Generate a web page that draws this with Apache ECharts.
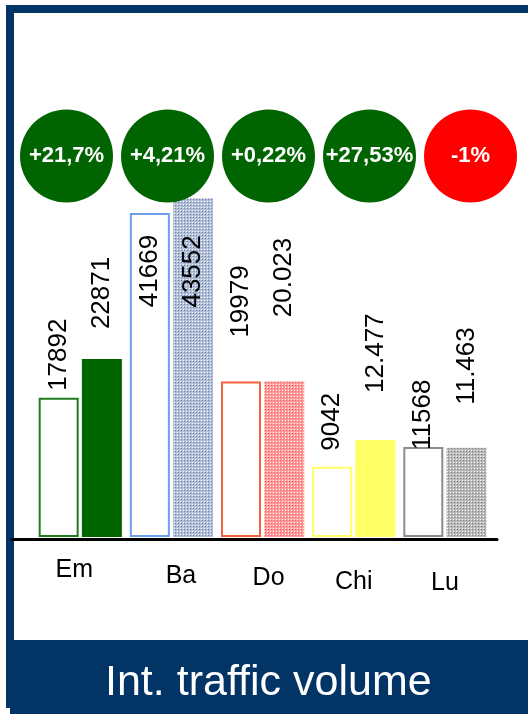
<!DOCTYPE html>
<html><head><meta charset="utf-8">
<script src="https://cdn.jsdelivr.net/npm/echarts@6/dist/echarts.min.js"></script>
<style>html,body{margin:0;padding:0;background:#fff}#c{width:528px;height:715px}</style>
</head><body><div id="c"></div>
<script>
// ---- data ----
const categories = ['Em', 'Ba', 'Do', 'Chi', 'Lu'];
const previousValues = [17892, 41669, 19979, 9042, 11568];
const currentValues = [22871, 43552, 20023, 12477, 11463];
const previousLabels = ['17892', '41669', '19979', '9042', '11568'];
const currentLabels = ['22871', '43552', '20.023', '12.477', '11.463'];
const changeValues = [21.7, 4.21, 0.22, 27.53, -1];
const changeLabels = ['+21,7%', '+4,21%', '+0,22%', '+27,53%', '-1%'];
const chartTitle = 'Int. traffic volume';

// ---- styles ----
function mesh(base, light, dark) {
  const c = document.createElement('canvas');
  c.width = 3; c.height = 3;
  const g = c.getContext('2d');
  g.fillStyle = base; g.fillRect(0, 0, 3, 3);
  g.fillStyle = light; g.fillRect(0, 0, 1, 1);
  g.fillStyle = dark; g.fillRect(1, 1, 1, 1);
  return { image: c, repeat: 'repeat' };
}
const prevBorders = ['#1e7b1e', '#6d9eeb', '#f4603c', '#ffff66', '#8c8c8c'];
const currFills = [
  '#006400',
  mesh('#b0bed8', '#ffffff', '#6f84ad'),
  mesh('#ff9a9a', '#ffffff', '#ff6060'),
  '#ffff66',
  mesh('#b8b8b8', '#ffffff', '#858585')
];
const prevLabelPos = ['top', 'insideTop', 'top', 'top', 'top'];
const prevLabelDist = [7, 22, 44, 16, -3];
const currLabelPos = ['top', 'insideTop', 'top', 'top', 'top'];
const currLabelDist = [30, 37, 64, 47, 43];
const catNudge = [[0, 12, 0, 0], [6, 0, 0, 19], [8, 0, 0, 12], [12, 0, 0, 0], [13, 0, 0, 0]];
const FONT = 'Liberation Sans, Arial, sans-serif';

function valLabel(text, pos, dist) {
  return {
    show: true, position: pos, distance: dist, rotate: 90,
    align: pos === 'top' ? 'left' : 'right', verticalAlign: 'middle',
    fontSize: 26, color: '#000', fontFamily: FONT,
    formatter: () => text
  };
}

const rich = {};
catNudge.forEach((p, i) => { rich['c' + i] = { padding: p, fontSize: 25, color: '#000', fontFamily: FONT }; });

const chart = echarts.init(document.getElementById('c'), null, { renderer: 'canvas' });
chart.setOption({
  animation: false,
  backgroundColor: '#ffffff',
  title: {
    text: chartTitle, left: 105, top: 662, padding: 0,
    textStyle: { color: '#ffffff', fontSize: 43, fontWeight: 'normal', fontFamily: FONT }
  },
  graphic: [
    { type: 'rect', z: 0, shape: { x: 6, y: 5, width: 522, height: 8 }, style: { fill: '#033466' } },
    { type: 'rect', z: 0, shape: { x: 6, y: 5, width: 8, height: 703 }, style: { fill: '#033466' } },
    { type: 'rect', z: 0, shape: { x: 10, y: 640, width: 518, height: 74 }, style: { fill: '#033466' } }
  ],
  grid: [
    { left: 34.7, right: 37.5, top: 70.33, bottom: 178 },
    { left: 12, right: 31, top: 500, bottom: 175.5 },
    { left: 16, right: 7, top: 110, height: 92 }
  ],
  xAxis: [
    {
      type: 'category', gridIndex: 0, data: categories,
      axisLine: { show: false }, axisTick: { show: false },
      axisLabel: { margin: 21, formatter: (v, i) => '{c' + i + '|' + v + '}', rich: rich }
    },
    {
      type: 'value', gridIndex: 1, min: 0, max: 1,
      axisLine: { show: true, lineStyle: { color: '#000', width: 3 } },
      axisTick: { show: false }, axisLabel: { show: false }, splitLine: { show: false }
    },
    { type: 'category', gridIndex: 2, data: categories, show: false }
  ],
  yAxis: [
    { type: 'value', gridIndex: 0, min: 0, max: 60000, show: false, splitLine: { show: false } },
    { type: 'value', gridIndex: 1, show: false },
    { type: 'category', gridIndex: 2, data: ['change'], show: false }
  ],
  series: [
    {
      type: 'bar', xAxisIndex: 0, yAxisIndex: 0, barWidth: 40, barGap: '8%',
      data: previousValues.map((v, i) => ({
        value: v,
        itemStyle: { color: '#ffffff', borderColor: prevBorders[i], borderWidth: 2 },
        label: valLabel(previousLabels[i], prevLabelPos[i], prevLabelDist[i])
      }))
    },
    {
      type: 'bar', xAxisIndex: 0, yAxisIndex: 0, barWidth: 40, barGap: '8%',
      data: currentValues.map((v, i) => ({
        value: v,
        itemStyle: { color: currFills[i] },
        label: valLabel(currentLabels[i], currLabelPos[i], currLabelDist[i])
      }))
    },
    {
      type: 'scatter', xAxisIndex: 2, yAxisIndex: 2, symbol: 'circle', symbolSize: 93,
      data: changeValues.map((v, i) => ({
        value: [categories[i], 'change'],
        itemStyle: { color: v >= 0 ? '#006400' : '#ff0000', opacity: 1 },
        label: {
          show: true, position: 'inside', formatter: () => changeLabels[i],
          color: '#ffffff', fontWeight: 'bold', fontSize: 22, fontFamily: FONT
        }
      }))
    }
  ]
});
</script>
</body></html>
